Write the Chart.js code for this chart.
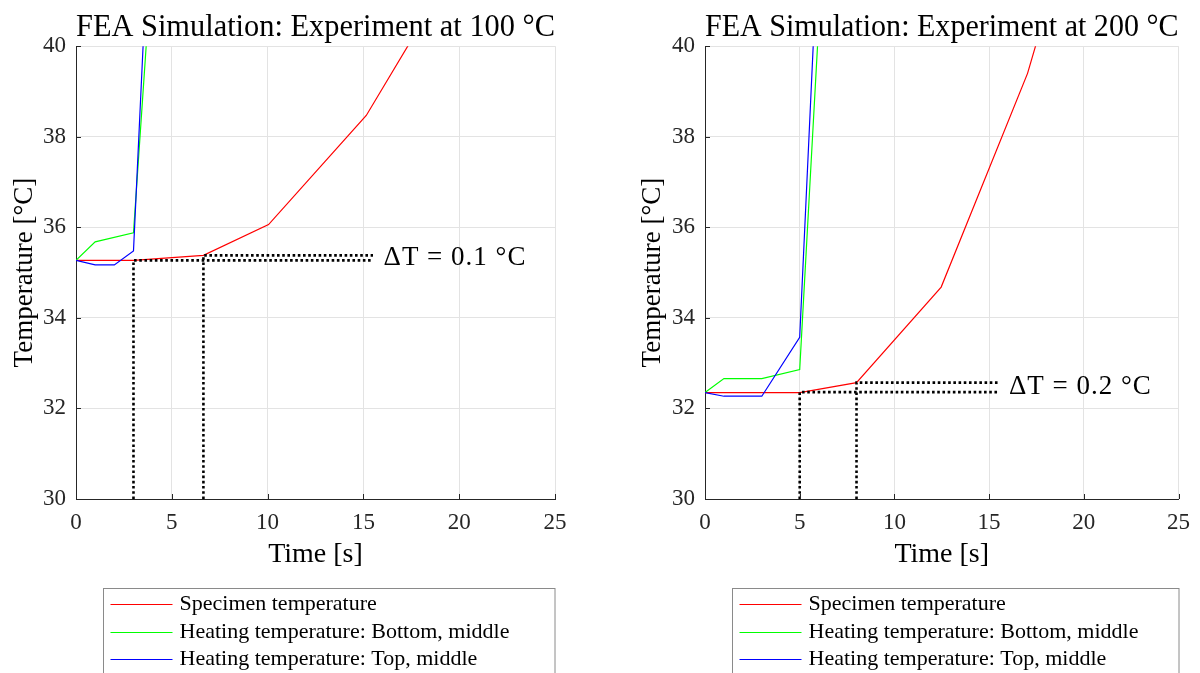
<!DOCTYPE html>
<html>
<head>
<meta charset="utf-8">
<script src="https://cdn.jsdelivr.net/npm/chart.js@4.4.1/dist/chart.umd.min.js"></script>
<style>
  html, body { margin: 0; padding: 0; background: #fff; }
  #wrap { position: relative; width: 1200px; height: 673px; overflow: hidden; }
  canvas { position: absolute; top: 0; }
</style>
</head>
<body>
<div id="wrap">
  <canvas id="left" width="600" height="673" style="left:0"></canvas>
  <canvas id="right" width="600" height="673" style="left:600px"></canvas>
</div>
<script>
const timeTicks = [0, 5, 10, 15, 20, 25];
const tempTicks = [30, 32, 34, 36, 38, 40];
const seriesNames = ['Specimen temperature', 'Heating temperature: Bottom, middle', 'Heating temperature: Top, middle'];

// experiment at 100 °C
const specTime100 = [0, 3, 6.65, 10.05, 15.15, 20];
const specTemp100 = [35.27, 35.27, 35.38, 36.06, 38.47, 41.9];
const bottomTime100 = [0, 1, 3, 4];
const bottomTemp100 = [35.27, 35.68, 35.88, 42.1];
const topTime100 = [0, 1, 2, 3, 4];
const topTemp100 = [35.27, 35.17, 35.17, 35.48, 44.5];
const guideTime100 = [3, 6.65];
const guideTemp100 = [35.27, 35.38];

// experiment at 200 °C
const specTime200 = [0, 5, 8, 12.47, 17.03, 20];
const specTemp200 = [32.35, 32.35, 32.57, 34.68, 39.4, 43.65];
const bottomTime200 = [0, 1, 3, 5, 6];
const bottomTemp200 = [32.35, 32.66, 32.66, 32.86, 40.45];
const topTime200 = [0, 1, 3, 5, 6];
const topTemp200 = [32.35, 32.27, 32.27, 33.57, 42.6];
const guideTime200 = [5, 8];
const guideTemp200 = [32.36, 32.57];

const guideEnd = 15.5;
const labelTime = 16.05;

const serif = "'Liberation Serif', 'Times New Roman', serif";
const axisColor = '#262626';

function pts(xs, ys) {
  return xs.map((x, i) => ({ x: x, y: ys[i] }));
}

function guide(t, T) {
  return [{ x: t, y: tempTicks[0] }, { x: t, y: T }, { x: guideEnd, y: T }];
}

// ticks pointing into the plot, dT label and the boxed legend below
const extras = {
  id: 'extras',
  afterDraw(chart, args, opts) {
    const ctx = chart.ctx;
    const a = chart.chartArea;
    const xs = chart.scales.x, ys = chart.scales.y;
    ctx.save();
    ctx.strokeStyle = axisColor;
    ctx.lineWidth = 1;
    ctx.beginPath();
    timeTicks.forEach(v => {
      const px = Math.round(xs.getPixelForValue(v)) + 0.5;
      ctx.moveTo(px, a.bottom);
      ctx.lineTo(px, a.bottom - 5);
    });
    tempTicks.forEach(v => {
      const py = Math.round(ys.getPixelForValue(v)) + 0.5;
      ctx.moveTo(a.left, py);
      ctx.lineTo(a.left + 5, py);
    });
    ctx.stroke();

    ctx.fillStyle = '#000';
    ctx.font = '27px ' + serif;
    ctx.letterSpacing = '1px';
    ctx.textBaseline = 'middle';
    ctx.textAlign = 'left';
    const midT = (opts.dT[0] + opts.dT[1]) / 2;
    ctx.fillText(opts.note, xs.getPixelForValue(labelTime), ys.getPixelForValue(midT));
    ctx.letterSpacing = '0px';

    const boxL = Math.round(a.left + 27) + 0.5;
    ctx.strokeStyle = '#8a8a8a';
    ctx.strokeRect(boxL, 588.5, Math.round(a.right) - boxL, 120);
    ctx.font = '22px ' + serif;
    chart.data.datasets.filter(d => d.label).forEach((d, i) => {
      const y = Math.round(604 + i * 27.5) + 0.5;
      ctx.strokeStyle = d.borderColor;
      ctx.lineWidth = 1;
      ctx.beginPath();
      ctx.moveTo(boxL + 7, y);
      ctx.lineTo(boxL + 69, y);
      ctx.stroke();
      ctx.fillStyle = '#000';
      ctx.fillText(d.label, boxL + 76, y);
    });
    ctx.restore();
  }
};

function makeChart(id, title, spec, bottom, top, guides, note, lay) {
  const line = (label, data, color, order) => ({
    label: label, data: data, borderColor: color, backgroundColor: color,
    borderWidth: 1.2, pointRadius: 0, tension: 0, fill: false, order: order
  });
  const dotted = data => ({
    data: data, borderColor: '#000', borderWidth: 2.6, borderDash: [2.6, 2.6],
    pointRadius: 0, tension: 0, fill: false, order: 0
  });
  new Chart(document.getElementById(id), {
    type: 'line',
    data: {
      datasets: [
        line(seriesNames[0], spec, '#ff0000', 3),
        line(seriesNames[1], bottom, '#00ff00', 2),
        line(seriesNames[2], top, '#0000ff', 1),
        dotted(guides[0]),
        dotted(guides[1])
      ]
    },
    options: {
      responsive: false,
      animation: false,
      layout: { padding: { top: 0, left: lay.padLeft, right: lay.padRight, bottom: 101 } },
      plugins: {
        legend: { display: false },
        tooltip: { enabled: false },
        title: {
          display: true,
          text: title,
          fullSize: false,
          color: '#000',
          font: { family: serif, size: 31, weight: 'normal', lineHeight: 1.2 },
          padding: { top: 9, bottom: 0 }
        },
        extras: { note: note, dT: lay.dT }
      },
      scales: {
        x: {
          type: 'linear', min: 0, max: 25,
          afterBuildTicks: s => { s.ticks = timeTicks.map(v => ({ value: v })); },
          afterFit: s => { s.height = 73; },
          grid: { color: '#e3e3e3', drawTicks: false },
          border: { color: axisColor, width: 1 },
          ticks: { color: axisColor, padding: 10, font: { family: serif, size: 23 }, maxRotation: 0 },
          title: {
            display: true, text: 'Time [s]', color: '#000',
            font: { family: serif, size: 28 }, padding: { top: 0, bottom: 1 }
          }
        },
        y: {
          type: 'linear', min: 30, max: 40,
          afterBuildTicks: s => { s.ticks = tempTicks.map(v => ({ value: v })); },
          afterFit: s => { s.width = lay.axisWidth; },
          grid: { color: '#e3e3e3', drawTicks: false },
          border: { color: axisColor, width: 1 },
          ticks: { color: axisColor, padding: 10, font: { family: serif, size: 23 } },
          title: {
            display: true, text: 'Temperature [°C]', color: '#000',
            font: { family: serif, size: 27 }, padding: { top: 9, bottom: 0 }
          }
        }
      }
    },
    plugins: [extras]
  });
}

makeChart('left', 'FEA Simulation: Experiment at 100 °C',
  pts(specTime100, specTemp100), pts(bottomTime100, bottomTemp100), pts(topTime100, topTemp100),
  [guide(guideTime100[0], guideTemp100[0]), guide(guideTime100[1], guideTemp100[1])],
  'ΔT = 0.1 °C', { padLeft: 0, axisWidth: 76, padRight: 45, dT: guideTemp100 });

makeChart('right', 'FEA Simulation: Experiment at 200 °C',
  pts(specTime200, specTemp200), pts(bottomTime200, bottomTemp200), pts(topTime200, topTemp200),
  [guide(guideTime200[0], guideTemp200[0]), guide(guideTime200[1], guideTemp200[1])],
  'ΔT = 0.2 °C', { padLeft: 28, axisWidth: 77, padRight: 18, dT: guideTemp200 });
</script>
</body>
</html>
